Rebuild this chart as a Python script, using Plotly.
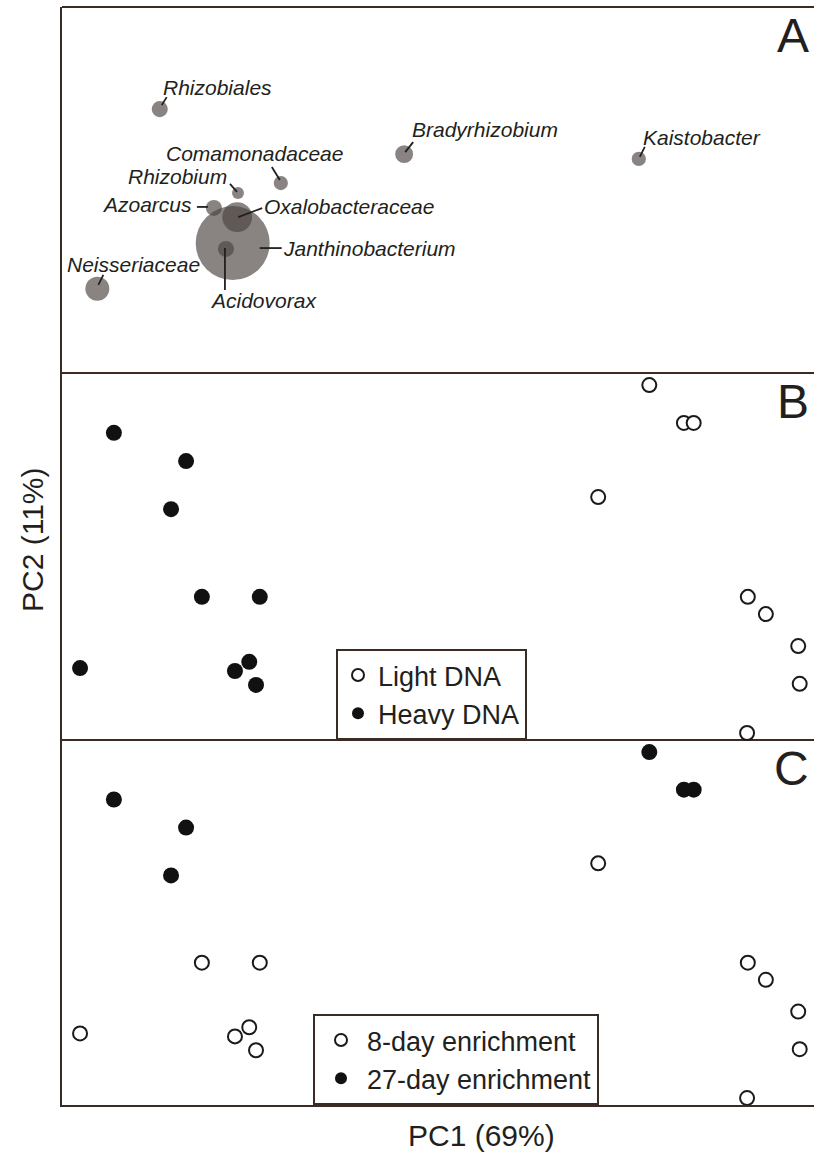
import plotly.graph_objects as go

# ---------------- Data ----------------
# Panel A: taxa (bubble position = loading, bubble area = relative abundance %)
taxa = ["Rhizobiales", "Bradyrhizobium", "Kaistobacter", "Comamonadaceae", "Rhizobium",
        "Azoarcus", "Oxalobacteraceae", "Janthinobacterium", "Acidovorax", "Neisseriaceae"]
taxa_pc1 = [13.0, 45.5, 76.7, 29.1, 23.4, 20.2, 23.3, 22.7, 21.8, 4.7]
taxa_pc2 = [72.1, 59.8, 58.5, 51.9, 49.2, 45.1, 42.6, 35.5, 33.9, 23.0]
taxa_abund = [1.8, 2.2, 1.4, 1.4, 1.0, 1.8, 6.2, 38.0, 1.8, 4.0]

# Panels B and C: samples (same ordination, different grouping)
sample_pc1 = [6.9, 16.5, 14.5, 18.6, 26.3, 2.4, 24.9, 23.0, 25.8,
              78.1, 82.7, 84.0, 71.3, 91.2, 93.6, 97.9, 98.1, 91.1]
sample_pc2 = [83.7, 76.0, 62.9, 39.0, 39.0, 19.6, 21.3, 18.8, 15.0,
              96.7, 86.4, 86.4, 66.2, 39.0, 34.3, 25.6, 15.3, 1.9]
dna_fraction = ["Heavy DNA"] * 9 + ["Light DNA"] * 9
enrichment = (["27-day enrichment"] * 3 + ["8-day enrichment"] * 6 +
              ["27-day enrichment"] * 3 + ["8-day enrichment"] * 6)

panel_letters = ["A", "B", "C"]
x_title = "PC1 (69%)"
y_title = "PC2 (11%)"

# ---------------- Styling ----------------
FONT = "Liberation Sans, Arial, sans-serif"
TXT = "#231f20"
FRAME = "#3a2c24"
BUBBLE = "rgba(74,66,63,0.65)"

# label placement: xanchor, xshift, yshift, leader offsets (x0, y0, x1, y1) in px (y up)
label_style = {
    "Rhizobiales":       ("left",   1,   22, (2, 4, 7, 12)),
    "Bradyrhizobium":    ("left",   6,   25, (1, 2, 9, 12)),
    "Kaistobacter":      ("left",   2,   21, (1, 2, 6, 12)),
    "Comamonadaceae":    ("center", -26, 30, (-1, 3, -9, 16)),
    "Rhizobium":         ("right",  -9,  16, (-1, 1, -8, 9)),
    "Azoarcus":          ("right",  -20, 3,  (-6, 1, -17, 1)),
    "Oxalobacteraceae":  ("left",   25,  11, (1, 0, 25, 9)),
    "Janthinobacterium": ("left",   48,  -5, (27, -5, 49, -5)),
    "Acidovorax":        ("center", 38,  -52, (-1, 1, -1, -41)),
    "Neisseriaceae":     ("center", 36,  24, (1, 4, 6, 14)),
}

fig = go.Figure()

# Panel A bubbles
max_d = 74
fig.add_trace(go.Scatter(
    x=taxa_pc1, y=taxa_pc2, mode="markers", xaxis="x", yaxis="y",
    marker=dict(size=taxa_abund, sizemode="area",
                sizeref=2.0 * max(taxa_abund) / max_d ** 2,
                color=BUBBLE, opacity=1, line=dict(width=0)),
    showlegend=False, hoverinfo="text", text=taxa, cliponaxis=False,
))

annotations = []
shapes = []
for name, px, py in zip(taxa, taxa_pc1, taxa_pc2):
    xa, xs, ys, (lx0, ly0, lx1, ly1) = label_style[name]
    annotations.append(dict(
        x=px, y=py, xref="x", yref="y", text=f"<i>{name}</i>", showarrow=False,
        xanchor=xa, yanchor="middle", xshift=xs, yshift=ys,
        font=dict(family=FONT, size=21, color=TXT)))
    shapes.append(dict(
        type="line", xref="x", yref="y", xsizemode="pixel", ysizemode="pixel",
        xanchor=px, yanchor=py, x0=lx0, y0=ly0, x1=lx1, y1=ly1,
        line=dict(color=TXT, width=1.8)))

OPEN = dict(symbol="circle", size=14, color="white", line=dict(color="#1a1a1a", width=2))
FILLED = dict(symbol="circle", size=16, color="#111111", line=dict(color="#111111", width=0))

# Panel B
for grp, mk, leg in [("Light DNA", OPEN, "legend"), ("Heavy DNA", FILLED, "legend")]:
    xs_ = [a for a, g in zip(sample_pc1, dna_fraction) if g == grp]
    ys_ = [b for b, g in zip(sample_pc2, dna_fraction) if g == grp]
    fig.add_trace(go.Scatter(x=xs_, y=ys_, mode="markers", xaxis="x", yaxis="y2",
                             marker=mk, name=grp, legend=leg, cliponaxis=False))

# Panel C
for grp, mk, leg in [("8-day enrichment", OPEN, "legend2"),
                     ("27-day enrichment", FILLED, "legend2")]:
    xs_ = [a for a, g in zip(sample_pc1, enrichment) if g == grp]
    ys_ = [b for b, g in zip(sample_pc2, enrichment) if g == grp]
    fig.add_trace(go.Scatter(x=xs_, y=ys_, mode="markers", xaxis="x", yaxis="y3",
                             marker=mk, name=grp, legend=leg, cliponaxis=False))

# Layout geometry
W, H = 814, 1158
ml, mr, mt, mb = 62, 0, 7, 53
ph = H - mt - mb
b_bot = (1105 - 740) / ph
a_bot = (1105 - 373) / ph

axis_common = dict(showgrid=False, zeroline=False, showticklabels=False, ticks="",
                   showline=True, linecolor=FRAME, linewidth=2, mirror=False)

# frame top lines for each panel
for yv in [1.0, a_bot, b_bot]:
    shapes.append(dict(type="line", xref="paper", yref="paper", x0=0, x1=1, y0=yv, y1=yv,
                       line=dict(color=FRAME, width=2), layer="below"))

# Panel letters
for letter, yref in zip(panel_letters, ["y domain", "y2 domain", "y3 domain"]):
    annotations.append(dict(x=1, y=1, xref="x domain", yref=yref, text=letter,
                            showarrow=False, xanchor="right", yanchor="top",
                            xshift=-3, yshift=0,
                            font=dict(family=FONT, size=48, color=TXT)))

# Axis titles
annotations.append(dict(x=(481 - ml) / (W - ml - mr), y=(1105 - 1135) / ph,
                        xref="paper", yref="paper", text=x_title, showarrow=False,
                        xanchor="center", yanchor="middle",
                        font=dict(family=FONT, size=30, color=TXT)))
annotations.append(dict(x=(32 - ml) / (W - ml - mr), y=(1105 - 540) / ph,
                        xref="paper", yref="paper", text=y_title, showarrow=False,
                        textangle=-90, xanchor="center", yanchor="middle",
                        font=dict(family=FONT, size=30, color=TXT)))

legend_common = dict(bgcolor="white", bordercolor=FRAME, borderwidth=2,
                     font=dict(family=FONT, size=27, color=TXT),
                     itemsizing="constant", traceorder="normal",
                     xanchor="left", yanchor="bottom", tracegroupgap=0)

fig.update_layout(
    width=W, height=H,
    margin=dict(l=ml, r=mr, t=mt, b=mb),
    plot_bgcolor="white", paper_bgcolor="white",
    xaxis=dict(range=[0, 100], domain=[0, 1], anchor="y3", **axis_common),
    yaxis=dict(range=[0, 100], domain=[a_bot, 1], anchor="x", **axis_common),
    yaxis2=dict(range=[0, 100], domain=[b_bot, a_bot], anchor="x", **axis_common),
    yaxis3=dict(range=[0, 100], domain=[0, b_bot], anchor="x", **axis_common),
    legend=dict(x=(336 - ml) / (W - ml - mr), y=b_bot, **legend_common),
    legend2=dict(x=(313 - ml) / (W - ml - mr), y=0, itemwidth=42, **legend_common),
    annotations=annotations,
    shapes=shapes,
    showlegend=True,
)

fig.write_html("out.html")
